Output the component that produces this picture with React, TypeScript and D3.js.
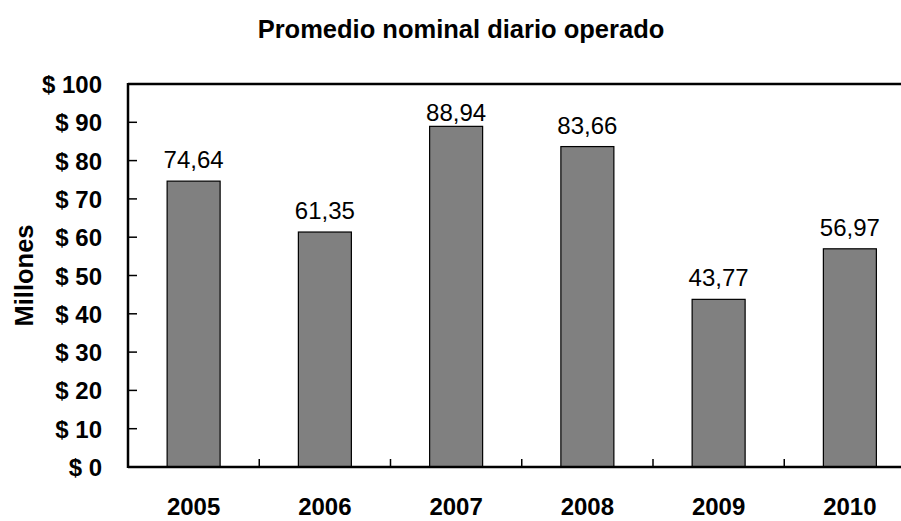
import React from "react";
import * as d3 from "d3";

const years = ["2005", "2006", "2007", "2008", "2009", "2010"];
const values = [74.64, 61.35, 88.94, 83.66, 43.77, 56.97];
const yTicks = [0, 10, 20, 30, 40, 50, 60, 70, 80, 90, 100];

const W = 901;
const H = 521;
const left = 128;
const top = 84;
const bottom = 467;
const step = 131.25;
const barW = 53;
const font = "'Liberation Sans', Arial, sans-serif";

export default function App() {
  const x = d3
    .scaleBand<string>()
    .domain(years)
    .range([left, left + step * years.length])
    .padding(0);
  const y = d3.scaleLinear().domain([0, 100]).range([bottom, top]);
  const fmt = (v: number) => v.toFixed(2).replace(".", ",");

  return (
    <svg
      width={W}
      height={H}
      style={{ position: "absolute", left: 0, top: 0, background: "#fff" }}
      fontFamily={font}
    >
      <rect x={0} y={0} width={W} height={H} fill="#fff" />
      <text x={461} y={38} textAnchor="middle" fontWeight="bold" fontSize={25.5}>
        Promedio nominal diario operado
      </text>
      <text
        transform={`translate(33,${(top + bottom) / 2}) rotate(-90)`}
        textAnchor="middle"
        fontWeight="bold"
        fontSize={25.5}
      >
        Millones
      </text>

      {years.map((yr, i) => {
        const bx = (x(yr) as number) + (x.bandwidth() - barW) / 2;
        const by = y(values[i]);
        return (
          <g key={yr}>
            <rect
              x={bx}
              y={by}
              width={barW}
              height={bottom - by}
              fill="#808080"
              stroke="#000"
              strokeWidth={1.2}
            />
            <text
              x={bx + barW / 2}
              y={Math.max(by - 13, top + 37)}
              textAnchor="middle"
              fontSize={24}
            >
              {fmt(values[i])}
            </text>
            <text
              x={(x(yr) as number) + x.bandwidth() / 2}
              y={515}
              textAnchor="middle"
              fontWeight="bold"
              fontSize={24}
            >
              {yr}
            </text>
          </g>
        );
      })}

      {yTicks.map((t) => (
        <g key={t}>
          <line x1={left} x2={left + 9} y1={y(t)} y2={y(t)} stroke="#000" strokeWidth={1.5} />
          <text
            x={102}
            y={y(t) + 9}
            textAnchor="end"
            fontWeight="bold"
            fontSize={24}
          >
            {`$ ${t}`}
          </text>
        </g>
      ))}

      {years.slice(1).map((yr) => (
        <line
          key={yr}
          x1={x(yr) as number}
          x2={x(yr) as number}
          y1={bottom}
          y2={bottom - 8}
          stroke="#000"
          strokeWidth={1.5}
        />
      ))}

      <line x1={left} x2={W} y1={top} y2={top} stroke="#000" strokeWidth={2.5} />
      <line x1={left} x2={W} y1={bottom} y2={bottom} stroke="#000" strokeWidth={2.5} />
      <line x1={left} x2={left} y1={top - 1} y2={bottom + 1} stroke="#000" strokeWidth={2.5} />
    </svg>
  );
}
